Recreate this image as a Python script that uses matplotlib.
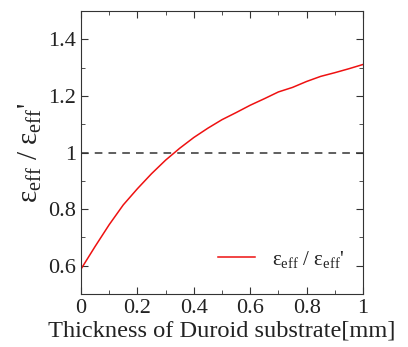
import matplotlib
matplotlib.use('Agg')
import matplotlib.pyplot as plt
from matplotlib.ticker import MultipleLocator

plt.rcParams['font.family'] = ['Liberation Serif', 'DejaVu Serif']
plt.rcParams['mathtext.fontset'] = 'stix'
plt.rcParams['text.color'] = '#222222'
plt.rcParams['xtick.labelcolor'] = '#222222'
plt.rcParams['ytick.labelcolor'] = '#222222'
plt.rcParams['axes.labelcolor'] = '#222222'

# thickness [mm] vs eps_eff / eps_eff'
thickness = [0.0, 0.05, 0.1, 0.15, 0.2, 0.25, 0.3, 0.35, 0.4, 0.45, 0.5, 0.55,
             0.6, 0.65, 0.7, 0.75, 0.8, 0.85, 0.9, 0.95, 1.0]
ratio = [0.588, 0.668, 0.745, 0.815, 0.872, 0.925, 0.973, 1.015, 1.053, 1.086,
         1.116, 1.141, 1.167, 1.190, 1.214, 1.230, 1.251, 1.269, 1.282, 1.296, 1.311]

lab = r"$\mathregular{\varepsilon_{eff}}$ / $\mathregular{\varepsilon_{eff}}$'"

fig = plt.figure(figsize=(4.08, 3.47), dpi=100)
ax = fig.add_axes([81/408, 1 - 294/347, 282/408, 283/347])

ax.plot(thickness, ratio, color='#ee1111', lw=1.1, label=lab)
ax.axhline(1.0, color='#333333', lw=1.1, ls=(0, (5, 4)))

ax.set_xlim(0, 1)
ax.set_ylim(0.5, 1.5)
ax.xaxis.set_minor_locator(MultipleLocator(0.1))
ax.yaxis.set_minor_locator(MultipleLocator(0.1))
ax.set_xticks([0, 0.2, 0.4, 0.6, 0.8, 1.0])
ax.set_xticklabels(['0', '0.2', '0.4', '0.6', '0.8', '1'])
ax.set_yticks([0.6, 0.8, 1.0, 1.2, 1.4])
ax.set_yticklabels(['0.6', '0.8', '1', '1.2', '1.4'])
ax.tick_params(which='both', direction='in', top=True, right=True, labelsize=16, color='#333333')
ax.tick_params(which='major', length=5)
ax.tick_params(which='minor', length=3)
for s in ax.spines.values():
    s.set_color('#333333')

ax.set_xlabel('Thickness of Duroid substrate[mm]', fontsize=17.6, labelpad=2)
ax.set_ylabel(lab, fontsize=21, labelpad=3)
ax.legend(loc='lower right', frameon=False, fontsize=15, handlelength=1.8,
          handletextpad=0.8, bbox_to_anchor=(1.0, 0.02))

fig.savefig('out.png', dpi=100)
